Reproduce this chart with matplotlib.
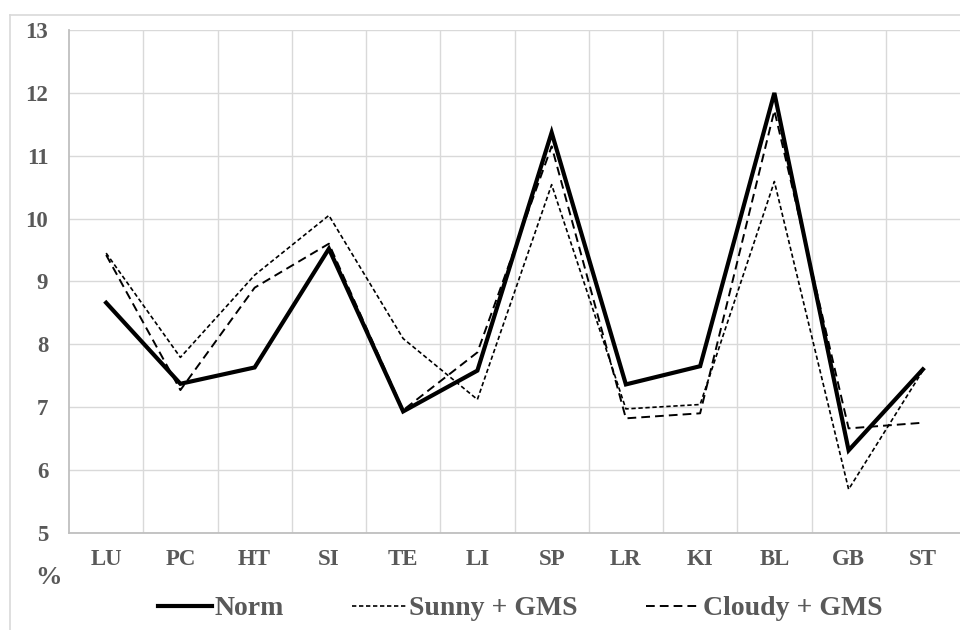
import matplotlib
matplotlib.use("Agg")
import matplotlib.pyplot as plt
from matplotlib.lines import Line2D
import numpy as np

plt.rcParams['font.family'] = ['Liberation Serif', 'DejaVu Serif']
plt.rcParams['font.weight'] = 'bold'

# data
sites = ["LU", "PC", "HT", "SI", "TE", "LI", "SP", "LR", "KI", "BL", "GB", "ST"]
norm = [8.66, 7.37, 7.63, 9.52, 6.93, 7.58, 11.37, 7.36, 7.65, 12.0, 6.31, 7.6]
sunny = [9.45, 7.79, 9.1, 10.05, 8.09, 7.12, 10.54, 6.97, 7.04, 10.59, 5.69, 7.58]
cloudy = [9.42, 7.27, 8.9, 9.6, 6.95, 7.87, 11.15, 6.82, 6.9, 11.72, 6.66, 6.75]
yticks = [5, 6, 7, 8, 9, 10, 11, 12, 13]

grey_txt = "#595959"
grid_c = "#d9d9d9"

fig = plt.figure(figsize=(9.6, 6.3), dpi=100)
ax = fig.add_axes([0.0719, 0.1545, 0.9281, 0.7977])

x = np.arange(len(sites))
ax.plot(x, norm, color="black", lw=3.0, solid_joinstyle="miter", label="Norm", zorder=4)
ax.plot(x, sunny, color="black", lw=1.2, linestyle=(0, (2.6, 1.6)), label="Sunny + GMS", zorder=3)
ax.plot(x, cloudy, color="black", lw=1.4, linestyle=(0, (4.5, 2.6)), label="Cloudy + GMS", zorder=3)

ax.set_xlim(-0.5, len(sites) - 0.5)
ax.set_ylim(5, 13)
ax.set_yticks(yticks)
ax.set_xticks(x)
ax.set_xticklabels(sites)

# gridlines: horizontal at every unit, vertical between categories
ax.set_xticks(np.arange(0.5, len(sites) - 0.5, 1), minor=True)
ax.grid(True, axis="y", which="major", color=grid_c, lw=1.0, zorder=0)
ax.grid(True, axis="x", which="minor", color=grid_c, lw=1.0, zorder=0)
ax.tick_params(which="both", length=0)
ax.tick_params(axis="y", pad=15, labelsize=16.5, labelcolor=grey_txt)
ax.tick_params(axis="x", pad=12, labelsize=16.5, labelcolor=grey_txt)

for s in ["top", "right"]:
    ax.spines[s].set_visible(False)
for s in ["left", "bottom"]:
    ax.spines[s].set_color("#bfbfbf")
    ax.spines[s].set_linewidth(1.3)

fig.text(0.05, 0.084, "%", fontsize=19, color=grey_txt, ha="center", va="center",
         fontweight="bold")

leg = ax.legend(loc="center", bbox_to_anchor=(0.506, -0.151), ncol=3, frameon=False,
                fontsize=20, handlelength=1.95, handletextpad=0.1, columnspacing=2.45)
for t in leg.get_texts():
    t.set_color(grey_txt)

# light chart-area border, cut off on the right and bottom like the original
fig.add_artist(Line2D([10 / 960, 10 / 960], [0, 1 - 15 / 630], transform=fig.transFigure,
                      color=grid_c, lw=1.2))
fig.add_artist(Line2D([10 / 960, 1], [1 - 15 / 630, 1 - 15 / 630], transform=fig.transFigure,
                      color=grid_c, lw=1.2))

fig.savefig("out.png", dpi=100)
